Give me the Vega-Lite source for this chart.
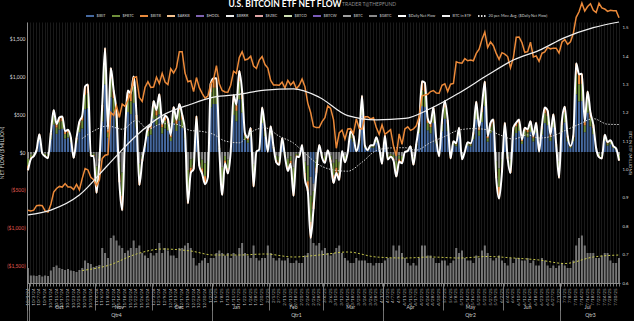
{
"$schema":"https://vega.github.io/schema/vega-lite/v6.json",
"width":593,"height":261,
"autosize":{"type":"none"},
"padding":{"left":27,"top":22,"right":14,"bottom":38},
"background":"#000000",
"config":{"view":{"stroke":null},"font":"Lato","axis":{"labelFont":"Lato","titleFont":"Lato"},"legend":{"labelFont":"Lato"}},
"data":{"values":[
{"d":"2024-10-01","FBTC":-97,"GBTC":-85,"BITB":-60,"p":60.8,"v":3,"e":0.84},
{"d":"2024-10-02","FBTC":-37,"GBTC":-32,"BITB":-23,"p":60.6,"v":1.5},
{"d":"2024-10-03","FBTC":-22,"GBTC":-19,"BITB":-13,"p":60.8,"v":1.5},
{"d":"2024-10-04","IBIT":16,"FBTC":6,"BITB":3,"p":62.1,"v":1.4},
{"d":"2024-10-07","IBIT":153,"FBTC":52,"BITB":30,"p":62.2,"v":1.6},
{"d":"2024-10-08","FBTC":-7,"GBTC":-6,"BITB":-5,"p":62.1,"v":1.3},
{"d":"2024-10-09","FBTC":-23,"GBTC":-20,"BITB":-15,"p":60.6,"v":1.5},
{"d":"2024-10-10","FBTC":-32,"GBTC":-28,"BITB":-21,"p":60.3,"v":1.4},
{"d":"2024-10-11","IBIT":164,"FBTC":56,"BITB":33,"p":62.4,"v":2.5,"e":0.857},
{"d":"2024-10-14","IBIT":361,"FBTC":122,"BITB":73,"p":66.0,"v":3.2},
{"d":"2024-10-15","IBIT":241,"FBTC":82,"BITB":48,"p":67.0,"v":3.5},
{"d":"2024-10-16","IBIT":298,"FBTC":101,"BITB":59,"p":67.6,"v":3},
{"d":"2024-10-17","IBIT":306,"FBTC":103,"BITB":61,"p":67.4,"v":2.8},
{"d":"2024-10-18","IBIT":177,"FBTC":60,"BITB":36,"p":68.4,"v":2.6},
{"d":"2024-10-21","IBIT":191,"FBTC":65,"BITB":38,"p":67.4,"v":2.8},
{"d":"2024-10-22","IBIT":125,"FBTC":42,"BITB":25,"p":67.4,"v":2.5},
{"d":"2024-10-23","FBTC":-32,"GBTC":-28,"BITB":-19,"p":66.7,"v":2.4},
{"d":"2024-10-24","IBIT":122,"FBTC":41,"BITB":25,"p":68.2,"v":2.2},
{"d":"2024-10-25","IBIT":261,"FBTC":88,"BITB":53,"p":66.6,"v":2.6,"e":0.91},
{"d":"2024-10-28","IBIT":311,"FBTC":105,"BITB":63,"p":69.9,"v":3,"m":179,"vm":2.5},
{"d":"2024-10-29","IBIT":566,"FBTC":191,"BITB":113,"p":72.7,"v":4.5},
{"d":"2024-10-30","IBIT":580,"FBTC":196,"BITB":117,"p":72.3,"v":4},
{"d":"2024-10-31","FBTC":-22,"GBTC":-19,"BITB":-13,"p":70.2,"v":3.8},
{"d":"2024-11-01","FBTC":-22,"GBTC":-19,"BITB":-14,"p":69.5,"v":3.2,"m":279},
{"d":"2024-11-04","FBTC":-216,"GBTC":-189,"BITB":-136,"p":67.8,"v":3.4},
{"d":"2024-11-05","FBTC":-46,"GBTC":-41,"BITB":-29,"p":69.4,"v":3.6},
{"d":"2024-11-06","IBIT":404,"FBTC":137,"BITB":81,"p":75.6,"v":7},
{"d":"2024-11-07","IBIT":894,"FBTC":303,"BITB":179,"p":76.5,"v":6},
{"d":"2024-11-08","IBIT":191,"FBTC":65,"BITB":38,"p":76.7,"v":5,"m":345,"e":1.016,"vm":3.5},
{"d":"2024-11-11","IBIT":724,"FBTC":245,"BITB":145,"p":88.7,"v":9},
{"d":"2024-11-12","IBIT":532,"FBTC":180,"BITB":106,"p":87.9,"v":9.5},
{"d":"2024-11-13","IBIT":332,"FBTC":112,"BITB":66,"p":90.6,"v":8.5},
{"d":"2024-11-14","FBTC":-160,"GBTC":-140,"BITB":-100,"p":87.3,"v":7.5},
{"d":"2024-11-15","FBTC":-308,"GBTC":-270,"BITB":-193,"p":91.1,"v":7,"m":302},
{"d":"2024-11-18","IBIT":166,"FBTC":56,"BITB":33,"p":90.5,"v":6},
{"d":"2024-11-19","IBIT":530,"FBTC":180,"BITB":106,"p":92.3,"v":6.5},
{"d":"2024-11-20","IBIT":502,"FBTC":170,"BITB":101,"p":94.3,"v":7},
{"d":"2024-11-21","IBIT":650,"FBTC":220,"BITB":130,"p":98.6,"v":8.5},
{"d":"2024-11-22","IBIT":319,"FBTC":108,"BITB":64,"p":98.9,"v":7,"m":419,"e":1.12,"vm":5.8},
{"d":"2024-11-25","FBTC":-175,"GBTC":-153,"BITB":-110,"p":93.0,"v":7.5},
{"d":"2024-11-26","FBTC":-49,"GBTC":-43,"BITB":-30,"p":91.9,"v":6},
{"d":"2024-11-27","IBIT":68,"FBTC":23,"BITB":14,"p":95.9,"v":5.5},
{"d":"2024-11-29","IBIT":208,"FBTC":70,"BITB":42,"p":97.5,"v":5,"m":303},
{"d":"2024-12-02","IBIT":229,"FBTC":78,"BITB":46,"p":95.9,"v":6},
{"d":"2024-12-03","IBIT":439,"FBTC":149,"BITB":88,"p":96.0,"v":5.5},
{"d":"2024-12-04","IBIT":361,"FBTC":122,"BITB":73,"p":98.8,"v":6},
{"d":"2024-12-05","IBIT":498,"FBTC":169,"BITB":99,"p":97.0,"v":8},
{"d":"2024-12-06","IBIT":244,"FBTC":83,"BITB":49,"p":99.9,"v":6,"m":375,"e":1.19,"vm":6.8},
{"d":"2024-12-09","IBIT":311,"FBTC":105,"BITB":63,"p":97.4,"v":7},
{"d":"2024-12-10","IBIT":285,"FBTC":97,"BITB":57,"p":96.7,"v":6.5},
{"d":"2024-12-11","IBIT":145,"FBTC":49,"BITB":29,"p":101.2,"v":5.5},
{"d":"2024-12-12","IBIT":388,"FBTC":131,"BITB":78,"p":100.0,"v":5.5},
{"d":"2024-12-13","IBIT":278,"FBTC":94,"BITB":56,"p":101.5,"v":5,"m":366},
{"d":"2024-12-16","IBIT":414,"FBTC":140,"BITB":83,"p":106.1,"v":7},
{"d":"2024-12-17","IBIT":320,"FBTC":108,"BITB":65,"p":106.1,"v":7},
{"d":"2024-12-18","IBIT":179,"FBTC":61,"BITB":35,"p":100.0,"v":7.5},
{"d":"2024-12-19","FBTC":-272,"GBTC":-238,"BITB":-170,"p":97.5,"v":8},
{"d":"2024-12-20","FBTC":-111,"GBTC":-97,"BITB":-69,"p":97.8,"v":7,"m":285,"e":1.23,"vm":6.4},
{"d":"2024-12-23","FBTC":-90,"GBTC":-79,"BITB":-57,"p":94.7,"v":5},
{"d":"2024-12-24","IBIT":309,"FBTC":105,"BITB":61,"p":98.7,"v":3.5},
{"d":"2024-12-26","FBTC":-73,"GBTC":-64,"BITB":-46,"p":95.8,"v":4},
{"d":"2024-12-27","FBTC":-115,"GBTC":-101,"BITB":-72,"p":94.2,"v":4.5,"m":272},
{"d":"2024-12-30","FBTC":-170,"GBTC":-149,"BITB":-107,"p":92.8,"v":5},
{"d":"2024-12-31","FBTC":-133,"GBTC":-117,"BITB":-83,"p":93.4,"v":4},
{"d":"2025-01-02","IBIT":590,"FBTC":200,"BITB":118,"p":96.9,"v":5},
{"d":"2025-01-03","IBIT":636,"FBTC":215,"BITB":127,"p":98.1,"v":5,"m":233,"e":1.255,"vm":5.6},
{"d":"2025-01-06","IBIT":636,"FBTC":215,"BITB":127,"p":102.1,"v":6},
{"d":"2025-01-07","IBIT":34,"FBTC":11,"BITB":7,"p":96.9,"v":6.5},
{"d":"2025-01-08","FBTC":-227,"GBTC":-199,"BITB":-142,"p":95.0,"v":6},
{"d":"2025-01-10","FBTC":-60,"GBTC":-52,"BITB":-37,"p":94.6,"v":5.5,"m":146},
{"d":"2025-01-13","FBTC":-114,"GBTC":-99,"BITB":-71,"p":94.5,"v":6},
{"d":"2025-01-14","IBIT":5,"FBTC":2,"BITB":1,"p":96.5,"v":5},
{"d":"2025-01-15","IBIT":491,"FBTC":166,"BITB":98,"p":100.5,"v":6},
{"d":"2025-01-16","IBIT":407,"FBTC":138,"BITB":81,"p":99.9,"v":5.5},
{"d":"2025-01-17","IBIT":697,"FBTC":236,"BITB":140,"p":104.4,"v":7,"m":122,"e":1.265,"vm":5.6},
{"d":"2025-01-21","IBIT":521,"FBTC":176,"BITB":105,"p":106.1,"v":8},
{"d":"2025-01-22","IBIT":161,"FBTC":55,"BITB":32,"p":103.7,"v":6},
{"d":"2025-01-23","IBIT":122,"FBTC":41,"BITB":25,"p":104.0,"v":5.5},
{"d":"2025-01-24","IBIT":207,"FBTC":70,"BITB":41,"p":104.8,"v":5,"m":259},
{"d":"2025-01-27","FBTC":-183,"GBTC":-160,"BITB":-115,"p":102.0,"v":7.5},
{"d":"2025-01-28","IBIT":3,"FBTC":1,"p":101.3,"v":5},
{"d":"2025-01-29","IBIT":21,"FBTC":7,"BITB":5,"p":103.7,"v":4.5},
{"d":"2025-01-30","IBIT":382,"FBTC":129,"BITB":77,"p":104.7,"v":5},
{"d":"2025-01-31","IBIT":207,"FBTC":70,"BITB":42,"p":102.4,"v":5,"m":321,"e":1.28,"vm":5.8},
{"d":"2025-02-03","IBIT":3,"FBTC":1,"BITB":1,"p":101.4,"v":7.5},
{"d":"2025-02-04","IBIT":221,"FBTC":75,"BITB":44,"p":97.9,"v":6},
{"d":"2025-02-05","IBIT":44,"FBTC":15,"BITB":8,"p":96.6,"v":5},
{"d":"2025-02-06","FBTC":-56,"GBTC":-49,"BITB":-35,"p":96.6,"v":4.5},
{"d":"2025-02-07","FBTC":-68,"GBTC":-60,"BITB":-43,"p":96.5,"v":5,"m":209},
{"d":"2025-02-10","IBIT":121,"FBTC":41,"BITB":24,"p":97.4,"v":4.5},
{"d":"2025-02-11","FBTC":-22,"GBTC":-20,"BITB":-14,"p":95.7,"v":4.5},
{"d":"2025-02-12","FBTC":-100,"GBTC":-88,"BITB":-63,"p":97.9,"v":5},
{"d":"2025-02-13","FBTC":-62,"GBTC":-55,"BITB":-39,"p":96.6,"v":4},
{"d":"2025-02-14","FBTC":-232,"GBTC":-203,"BITB":-145,"p":97.5,"v":4,"m":118,"e":1.284,"vm":5.2},
{"d":"2025-02-18","FBTC":-24,"GBTC":-21,"BITB":-15,"p":95.5,"v":4.5},
{"d":"2025-02-19","FBTC":-26,"GBTC":-23,"BITB":-16,"p":96.5,"v":4},
{"d":"2025-02-20","IBIT":61,"FBTC":21,"BITB":12,"p":98.3,"v":4},
{"d":"2025-02-21","FBTC":-146,"GBTC":-127,"BITB":-91,"p":96.1,"v":5.5,"m":-17},
{"d":"2025-02-24","FBTC":-206,"GBTC":-181,"BITB":-129,"p":91.4,"v":6},
{"d":"2025-02-25","IBIT":-330,"FBTC":-344,"GBTC":-250,"BITB":-214,"p":88.7,"v":9},
{"d":"2025-02-26","IBIT":-418,"FBTC":-146,"GBTC":-100,"BITB":-90,"p":84.7,"v":8},
{"d":"2025-02-27","FBTC":-110,"GBTC":-97,"BITB":-69,"p":84.4,"v":7.5},
{"d":"2025-02-28","IBIT":61,"FBTC":21,"BITB":12,"p":84.4,"v":8,"m":-171,"e":1.255,"vm":5.6},
{"d":"2025-03-03","FBTC":-30,"GBTC":-26,"BITB":-18,"p":86.1,"v":6.5},
{"d":"2025-03-04","FBTC":-57,"GBTC":-50,"BITB":-36,"p":87.2,"v":7},
{"d":"2025-03-05","IBIT":14,"FBTC":5,"BITB":3,"p":90.6,"v":6},
{"d":"2025-03-06","FBTC":-54,"GBTC":-47,"BITB":-33,"p":89.9,"v":5.5},
{"d":"2025-03-07","FBTC":-164,"GBTC":-143,"BITB":-102,"p":86.7,"v":6,"m":-238},
{"d":"2025-03-10","FBTC":-111,"GBTC":-97,"BITB":-70,"p":78.5,"v":7},
{"d":"2025-03-11","FBTC":-148,"GBTC":-130,"BITB":-93,"p":82.9,"v":7.5},
{"d":"2025-03-12","IBIT":8,"FBTC":3,"BITB":2,"p":83.7,"v":6},
{"d":"2025-03-13","FBTC":-54,"GBTC":-47,"BITB":-34,"p":81.1,"v":5},
{"d":"2025-03-14","IBIT":0,"p":84.0,"v":4.5,"m":-254,"e":1.19,"vm":6.2},
{"d":"2025-03-17","IBIT":178,"FBTC":60,"BITB":36,"p":84.1,"v":4},
{"d":"2025-03-18","IBIT":136,"FBTC":46,"BITB":27,"p":82.7,"v":4},
{"d":"2025-03-19","IBIT":7,"FBTC":2,"BITB":2,"p":86.9,"v":5},
{"d":"2025-03-20","IBIT":107,"FBTC":36,"BITB":22,"p":84.2,"v":4.5},
{"d":"2025-03-21","IBIT":484,"FBTC":164,"BITB":96,"p":84.0,"v":4.5,"m":-135},
{"d":"2025-03-24","IBIT":55,"FBTC":18,"BITB":11,"p":87.5,"v":4.5},
{"d":"2025-03-25","IBIT":18,"FBTC":6,"BITB":3,"p":87.5,"v":4},
{"d":"2025-03-26","IBIT":58,"FBTC":20,"BITB":11,"p":86.9,"v":4},
{"d":"2025-03-27","IBIT":58,"FBTC":20,"BITB":11,"p":87.2,"v":3.5},
{"d":"2025-03-28","IBIT":127,"FBTC":43,"BITB":26,"p":84.4,"v":4,"m":19,"e":1.175,"vm":5.2},
{"d":"2025-03-31","IBIT":39,"FBTC":13,"BITB":8,"p":82.5,"v":4},
{"d":"2025-04-01","FBTC":-63,"GBTC":-55,"BITB":-39,"p":85.2,"v":4},
{"d":"2025-04-02","IBIT":143,"FBTC":48,"BITB":29,"p":82.5,"v":4.5},
{"d":"2025-04-03","FBTC":-40,"GBTC":-35,"BITB":-25,"p":83.1,"v":5},
{"d":"2025-04-04","FBTC":-26,"GBTC":-22,"BITB":-16,"p":83.8,"v":5,"m":54},
{"d":"2025-04-07","FBTC":-44,"GBTC":-38,"BITB":-27,"p":79.2,"v":7.5},
{"d":"2025-04-08","FBTC":-130,"GBTC":-114,"BITB":-82,"p":76.3,"v":6.5},
{"d":"2025-04-09","FBTC":-51,"GBTC":-44,"BITB":-32,"p":82.6,"v":7.5},
{"d":"2025-04-10","FBTC":-60,"GBTC":-53,"BITB":-37,"p":79.6,"v":6},
{"d":"2025-04-11","IBIT":1,"p":84.0,"v":5,"m":57,"e":1.18,"vm":5.0},
{"d":"2025-04-14","IBIT":10,"FBTC":3,"BITB":2,"p":84.6,"v":4},
{"d":"2025-04-15","IBIT":49,"FBTC":17,"BITB":10,"p":83.6,"v":3.5},
{"d":"2025-04-16","FBTC":-68,"GBTC":-60,"BITB":-42,"p":84.0,"v":4},
{"d":"2025-04-17","IBIT":70,"FBTC":24,"BITB":13,"p":84.9,"v":3.5,"m":25},
{"d":"2025-04-21","IBIT":248,"FBTC":84,"BITB":49,"p":87.5,"v":5},
{"d":"2025-04-22","IBIT":608,"FBTC":206,"BITB":122,"p":93.4,"v":7.5},
{"d":"2025-04-23","IBIT":596,"FBTC":202,"BITB":119,"p":93.7,"v":7.5},
{"d":"2025-04-24","IBIT":288,"FBTC":97,"BITB":58,"p":93.9,"v":5.5},
{"d":"2025-04-25","IBIT":247,"FBTC":84,"BITB":49,"p":94.7,"v":5.5,"m":126,"e":1.215,"vm":5.2},
{"d":"2025-04-28","IBIT":384,"FBTC":130,"BITB":77,"p":95.0,"v":5},
{"d":"2025-04-29","IBIT":112,"FBTC":38,"BITB":23,"p":94.3,"v":4},
{"d":"2025-04-30","FBTC":-22,"GBTC":-20,"BITB":-14,"p":94.2,"v":4},
{"d":"2025-05-01","IBIT":274,"FBTC":93,"BITB":55,"p":96.5,"v":4.5},
{"d":"2025-05-02","IBIT":439,"FBTC":149,"BITB":87,"p":96.9,"v":4.5,"m":206},
{"d":"2025-05-05","IBIT":276,"FBTC":94,"BITB":55,"p":94.7,"v":3.5},
{"d":"2025-05-06","FBTC":-34,"GBTC":-30,"BITB":-21,"p":96.8,"v":4},
{"d":"2025-05-07","IBIT":92,"FBTC":31,"BITB":19,"p":97.0,"v":4.5},
{"d":"2025-05-08","IBIT":76,"FBTC":26,"BITB":15,"p":103.2,"v":7},
{"d":"2025-05-09","IBIT":209,"FBTC":71,"BITB":41,"p":102.9,"v":6,"m":291,"e":1.27,"vm":5.0},
{"d":"2025-05-12","FBTC":-38,"GBTC":-34,"BITB":-24,"p":102.8,"v":6.5},
{"d":"2025-05-13","IBIT":3,"FBTC":1,"BITB":1,"p":104.1,"v":5},
{"d":"2025-05-14","IBIT":85,"FBTC":29,"BITB":16,"p":103.5,"v":4.5},
{"d":"2025-05-15","IBIT":75,"FBTC":25,"BITB":15,"p":103.7,"v":4.5},
{"d":"2025-05-16","IBIT":169,"FBTC":57,"BITB":34,"p":103.5,"v":4,"m":310},
{"d":"2025-05-19","IBIT":434,"FBTC":147,"BITB":86,"p":105.6,"v":5.5},
{"d":"2025-05-20","IBIT":214,"FBTC":72,"BITB":43,"p":106.8,"v":5},
{"d":"2025-05-21","IBIT":396,"FBTC":134,"BITB":79,"p":109.6,"v":6.5},
{"d":"2025-05-22","IBIT":607,"FBTC":205,"BITB":122,"p":111.7,"v":7.5},
{"d":"2025-05-23","IBIT":137,"FBTC":46,"BITB":28,"p":107.3,"v":6,"m":294,"e":1.333,"vm":5.3},
{"d":"2025-05-27","IBIT":250,"FBTC":85,"BITB":50,"p":108.9,"v":5},
{"d":"2025-05-28","IBIT":281,"FBTC":95,"BITB":56,"p":107.8,"v":4.5},
{"d":"2025-05-29","FBTC":-138,"GBTC":-121,"BITB":-87,"p":105.6,"v":5},
{"d":"2025-05-30","FBTC":-246,"GBTC":-216,"BITB":-154,"p":103.9,"v":5.5,"m":231},
{"d":"2025-06-02","FBTC":-107,"GBTC":-94,"BITB":-67,"p":105.8,"v":4.5},
{"d":"2025-06-03","IBIT":252,"FBTC":85,"BITB":50,"p":105.4,"v":4},
{"d":"2025-06-04","FBTC":-35,"GBTC":-31,"BITB":-22,"p":104.7,"v":3.5},
{"d":"2025-06-05","FBTC":-111,"GBTC":-97,"BITB":-70,"p":101.5,"v":5},
{"d":"2025-06-06","IBIT":210,"FBTC":71,"BITB":42,"p":104.4,"v":4,"m":171,"e":1.386,"vm":5.0},
{"d":"2025-06-09","IBIT":252,"FBTC":85,"BITB":50,"p":110.2,"v":5},
{"d":"2025-06-10","IBIT":280,"FBTC":95,"BITB":56,"p":110.3,"v":5},
{"d":"2025-06-11","IBIT":107,"FBTC":36,"BITB":22,"p":108.7,"v":4.5},
{"d":"2025-06-12","IBIT":209,"FBTC":71,"BITB":42,"p":105.9,"v":4.5},
{"d":"2025-06-13","IBIT":196,"FBTC":66,"BITB":39,"p":106.1,"v":5,"m":227},
{"d":"2025-06-16","IBIT":265,"FBTC":90,"BITB":53,"p":108.8,"v":4},
{"d":"2025-06-17","IBIT":140,"FBTC":48,"BITB":28,"p":104.6,"v":4.5},
{"d":"2025-06-18","IBIT":253,"FBTC":86,"BITB":50,"p":104.9,"v":3.5},
{"d":"2025-06-20","IBIT":4,"FBTC":1,"BITB":1,"p":103.3,"v":3.5,"m":185,"e":1.42,"vm":4.6},
{"d":"2025-06-23","IBIT":228,"FBTC":77,"BITB":45,"p":105.6,"v":5},
{"d":"2025-06-24","IBIT":383,"FBTC":130,"BITB":76,"p":106.0,"v":4.5},
{"d":"2025-06-25","IBIT":356,"FBTC":121,"BITB":71,"p":107.3,"v":3.5},
{"d":"2025-06-26","IBIT":148,"FBTC":50,"BITB":29,"p":106.9,"v":3},
{"d":"2025-06-27","IBIT":326,"FBTC":110,"BITB":65,"p":107.1,"v":3.5,"m":215},
{"d":"2025-06-30","IBIT":66,"FBTC":22,"BITB":14,"p":107.1,"v":3},
{"d":"2025-07-01","FBTC":-137,"GBTC":-120,"BITB":-86,"p":105.7,"v":3.5},
{"d":"2025-07-02","IBIT":265,"FBTC":90,"BITB":53,"p":108.8,"v":4},
{"d":"2025-07-03","IBIT":391,"FBTC":132,"BITB":78,"p":109.6,"v":3.5,"m":283,"e":1.465,"vm":3.9},
{"d":"2025-07-07","IBIT":140,"FBTC":48,"BITB":28,"p":108.2,"v":3},
{"d":"2025-07-08","IBIT":53,"FBTC":18,"BITB":10,"p":108.9,"v":3},
{"d":"2025-07-09","IBIT":142,"FBTC":48,"BITB":28,"p":111.3,"v":4.5},
{"d":"2025-07-10","IBIT":764,"FBTC":259,"BITB":152,"p":115.9,"v":7.5},
{"d":"2025-07-11","IBIT":670,"FBTC":227,"BITB":133,"p":117.5,"v":9,"m":367},
{"d":"2025-07-14","IBIT":674,"FBTC":228,"BITB":135,"p":120.0,"v":9.5},
{"d":"2025-07-15","IBIT":262,"FBTC":89,"BITB":52,"p":117.7,"v":7.5},
{"d":"2025-07-16","IBIT":520,"FBTC":176,"BITB":104,"p":119.0,"v":6},
{"d":"2025-07-17","IBIT":339,"FBTC":115,"BITB":68,"p":119.8,"v":6},
{"d":"2025-07-18","IBIT":236,"FBTC":80,"BITB":47,"p":117.9,"v":6,"m":442,"e":1.5,"vm":5.2},
{"d":"2025-07-21","IBIT":33,"FBTC":11,"BITB":6,"p":117.3,"v":5},
{"d":"2025-07-22","FBTC":-27,"GBTC":-24,"BITB":-17,"p":119.9,"v":5},
{"d":"2025-07-23","FBTC":-34,"GBTC":-30,"BITB":-22,"p":118.6,"v":5.5},
{"d":"2025-07-24","IBIT":148,"FBTC":50,"BITB":29,"p":118.3,"v":6},
{"d":"2025-07-25","IBIT":85,"FBTC":29,"BITB":17,"p":117.6,"v":6,"m":368},
{"d":"2025-07-28","IBIT":102,"FBTC":35,"BITB":20,"p":117.9,"v":4.5},
{"d":"2025-07-29","IBIT":52,"FBTC":18,"BITB":10,"p":117.8,"v":4},
{"d":"2025-07-30","IBIT":31,"FBTC":10,"BITB":6,"p":117.8,"v":4},
{"d":"2025-07-31","FBTC":-46,"GBTC":-40,"BITB":-28,"p":115.8,"v":5,"m":364,"e":1.52,"vm":5.6}
]},
"layer":[
{"transform":[{"fold":["IBIT","FBTC","BITB","GBTC"],"as":["k","val"]},{"filter":"isValid(datum.val)"}],
 "mark":{"type":"bar"},
 "encoding":{
  "x":{"field":"d","type":"nominal","scale":{"paddingInner":0.3,"paddingOuter":0},
   "axis":{"orient":"bottom","title":null,"labelAngle":-90,"labelFontSize":4.5,"labelColor":"#bfbfbf","labelExpr":"toNumber(substring(datum.value,5,7)) + '/' + toNumber(substring(datum.value,8,10)) + '/' + substring(datum.value,2,4)","labelOverlap":"parity","labelPadding":2,"tickSize":3,"tickColor":"#777777","domainColor":"#8c8c8c","grid":true,"gridColor":"#2c2c2c","gridWidth":0.6}},
  "y":{"field":"val","type":"quantitative","stack":"zero","scale":{"domain":[-1735,1722],"nice":false,"zero":false},
   "axis":{"orient":"left","values":[-1500,-1000,-500,0,500,1000,1500],"labelExpr":"datum.value < 0 ? '($' + format(-datum.value, ',') + ')' : '$' + format(datum.value, ',')","labelFontSize":5,"labelColor":{"condition":{"test":"datum.value < 0","value":"#e05a4f"},"value":"#d9d9d9"},"ticks":false,"grid":false,"domainColor":"#8c8c8c","title":"NET FLOW ($MILLION)","titleFontSize":5,"titleColor":"#d9d9d9","titleFontWeight":"normal","labelPadding":2,"titlePadding":2}},
  "color":{"field":"k","type":"nominal",
   "scale":{"domain":["IBIT","FBTC","BITB","ARKB","HODL","BRRR","EZBC","BTCO","BTCW","BTC","GBTC","$Daily Net Flow","BTC in ETF","20 per. Mov. Avg. ($Daily Net Flow)"],
    "range":["#46699f","#6f8f3b","#e98a3c","#f5c38f","#7e63b0","#eeeeee","#e0a5a5","#cfe0b4","#7a5cb8","#a0a0a0","#8a8a8a","#ffffff","#f0f0f0","#d8d8d8"]},
   "legend":{"orient":"none","legendX":58,"legendY":-11,"direction":"horizontal","columns":14,"title":null,"symbolType":"stroke","symbolSize":64,"symbolStrokeWidth":2,"labelFontSize":3.8,"labelColor":"#d0d0d0","columnPadding":2,"labelOffset":1.5,"labelExpr":"length(datum.label) <= 4 ? '$' + datum.label : datum.label",
    "encode":{"symbols":{"update":{"stroke":{"scale":"color","field":"value"},"strokeDash":{"signal":"datum.value == '20 per. Mov. Avg. ($Daily Net Flow)' ? [1.5,1.5] : [1,0]"}}}}}},
  "order":{"field":"k","sort":"descending"}}},
{"mark":{"type":"bar","color":"#8a8a8a","opacity":0.85},
 "encoding":{"x":{"field":"d","type":"nominal","axis":null},
  "y":{"field":"v","type":"quantitative","scale":{"domain":[0,52.2],"nice":false},"axis":null}}},
{"transform":[{"filter":"isValid(datum.vm)"}],
 "mark":{"type":"line","color":"#c8c84a","strokeWidth":1,"strokeDash":[2,2],"interpolate":"monotone"},
 "encoding":{"x":{"field":"d","type":"nominal","axis":null},
  "y":{"field":"vm","type":"quantitative","scale":{"domain":[0,52.2],"nice":false},"axis":null}}},
{"mark":{"type":"point","opacity":0},
 "encoding":{"x":{"field":"d","type":"nominal","axis":{"orient":"bottom","title":null,"values":["2024-10-16","2024-11-14","2024-12-16","2025-01-16","2025-02-14","2025-03-17","2025-04-15","2025-05-15","2025-06-13","2025-07-16"],"labelExpr":"['Jan','Feb','Mar','Apr','May','Jun','Jul','Aug','Sep','Oct','Nov','Dec'][toNumber(substring(datum.value,5,7))-1]","offset":21,"ticks":false,"domain":false,"grid":false,"labelAngle":0,"labelFontSize":5,"labelColor":"#cfcfcf","labelPadding":0,"labelOverlap":false}}}},
{"mark":{"type":"point","opacity":0},
 "encoding":{"x":{"field":"d","type":"nominal","axis":{"orient":"bottom","title":null,"values":["2024-10-01","2024-11-01","2024-12-02","2025-01-02","2025-02-03","2025-03-03","2025-04-01","2025-05-01","2025-06-02","2025-07-01"],"labels":false,"domain":false,"grid":false,"ticks":true,"tickSize":27,"tickColor":"#8c8c8c","tickWidth":0.8,"tickBand":"extent"}}}},
{"mark":{"type":"point","opacity":0},
 "encoding":{"x":{"field":"d","type":"nominal","axis":{"orient":"bottom","title":null,"values":["2024-10-01","2025-01-02","2025-04-01","2025-07-01"],"labels":false,"domain":false,"grid":false,"ticks":true,"tickSize":38,"tickColor":"#8c8c8c","tickWidth":0.8,"tickBand":"extent"}}}},
{"mark":{"type":"point","opacity":0},
 "encoding":{"x":{"field":"d","type":"nominal","axis":{"orient":"bottom","title":null,"values":["2024-11-13","2025-02-18","2025-05-15","2025-07-17"],"labelExpr":"'Qtr' + (toNumber(substring(datum.value,5,7)) >= 10 ? 4 : ceil(toNumber(substring(datum.value,5,7))/3))","offset":29,"ticks":false,"domain":false,"grid":false,"labelAngle":0,"labelFontSize":5,"labelColor":"#cfcfcf","labelPadding":0,"labelOverlap":false}}}},
{"transform":[{"fold":["IBIT","FBTC","BITB","GBTC"],"as":["k","val"]},{"aggregate":[{"op":"sum","field":"val","as":"net"}],"groupby":["d"]}],
 "mark":{"type":"line","strokeWidth":2,"interpolate":"monotone"},
 "encoding":{"x":{"field":"d","type":"nominal","axis":null},
  "y":{"field":"net","type":"quantitative","scale":{"domain":[-1735,1722],"nice":false,"zero":false},"axis":null},
  "color":{"datum":"$Daily Net Flow"}}},
{"transform":[{"filter":"isValid(datum.m)"}],
 "mark":{"type":"line","strokeWidth":1,"strokeDash":[1.5,1.5],"interpolate":"monotone"},
 "encoding":{"x":{"field":"d","type":"nominal","axis":null},
  "y":{"field":"m","type":"quantitative","scale":{"domain":[-1735,1722],"nice":false,"zero":false},"axis":null},
  "color":{"datum":"20 per. Mov. Avg. ($Daily Net Flow)"}}},
{"mark":{"type":"line","color":"#ec8a3a","strokeWidth":1.5},
 "encoding":{"x":{"field":"d","type":"nominal","axis":null},
  "y":{"field":"p","type":"quantitative","scale":{"domain":[40,114.57],"nice":false,"zero":false},"axis":null}}},
{"transform":[{"filter":"isValid(datum.e)"}],
 "mark":{"type":"line","strokeWidth":1.2,"interpolate":"monotone"},
 "encoding":{"x":{"field":"d","type":"nominal","axis":null},
  "y":{"field":"e","type":"quantitative","scale":{"domain":[0.6,1.52],"nice":false,"zero":false},
   "axis":{"orient":"right","values":[0.6,0.7,0.8,0.9,1.0,1.1,1.2,1.3,1.4,1.5],"format":".1f","labelFontSize":4.3,"labelColor":"#d9d9d9","ticks":false,"domain":false,"grid":false,"title":"BTC IN ETF (MILLIONS)","titleFontSize":4.2,"titleColor":"#d9d9d9","titleFontWeight":"normal","labelPadding":2,"titlePadding":0}},
  "color":{"datum":"BTC in ETF"}}},
{"data":{"values":[{"t":"U.S. BITCOIN ETF NET FLOW"}]},
 "mark":{"type":"text","fontSize":8.5,"fontWeight":"bold","color":"#ffffff","align":"center","baseline":"middle"},
 "encoding":{"text":{"field":"t"},"x":{"datum":"2025-02-11","axis":null},"y":{"datum":1960,"type":"quantitative","scale":{"domain":[-1735,1722],"nice":false,"zero":false},"axis":null}}},
{"data":{"values":[{"t":"TRADER T@THEPFUND"}]},
 "mark":{"type":"text","fontSize":5,"color":"#8c8c8c","align":"left","baseline":"middle"},
 "encoding":{"text":{"field":"t"},"x":{"datum":"2025-03-12","axis":null},"y":{"datum":1960,"type":"quantitative","scale":{"domain":[-1735,1722],"nice":false,"zero":false},"axis":null}}}
],
"resolve":{"scale":{"y":"independent"},"axis":{"x":"independent","y":"independent"}}
}
